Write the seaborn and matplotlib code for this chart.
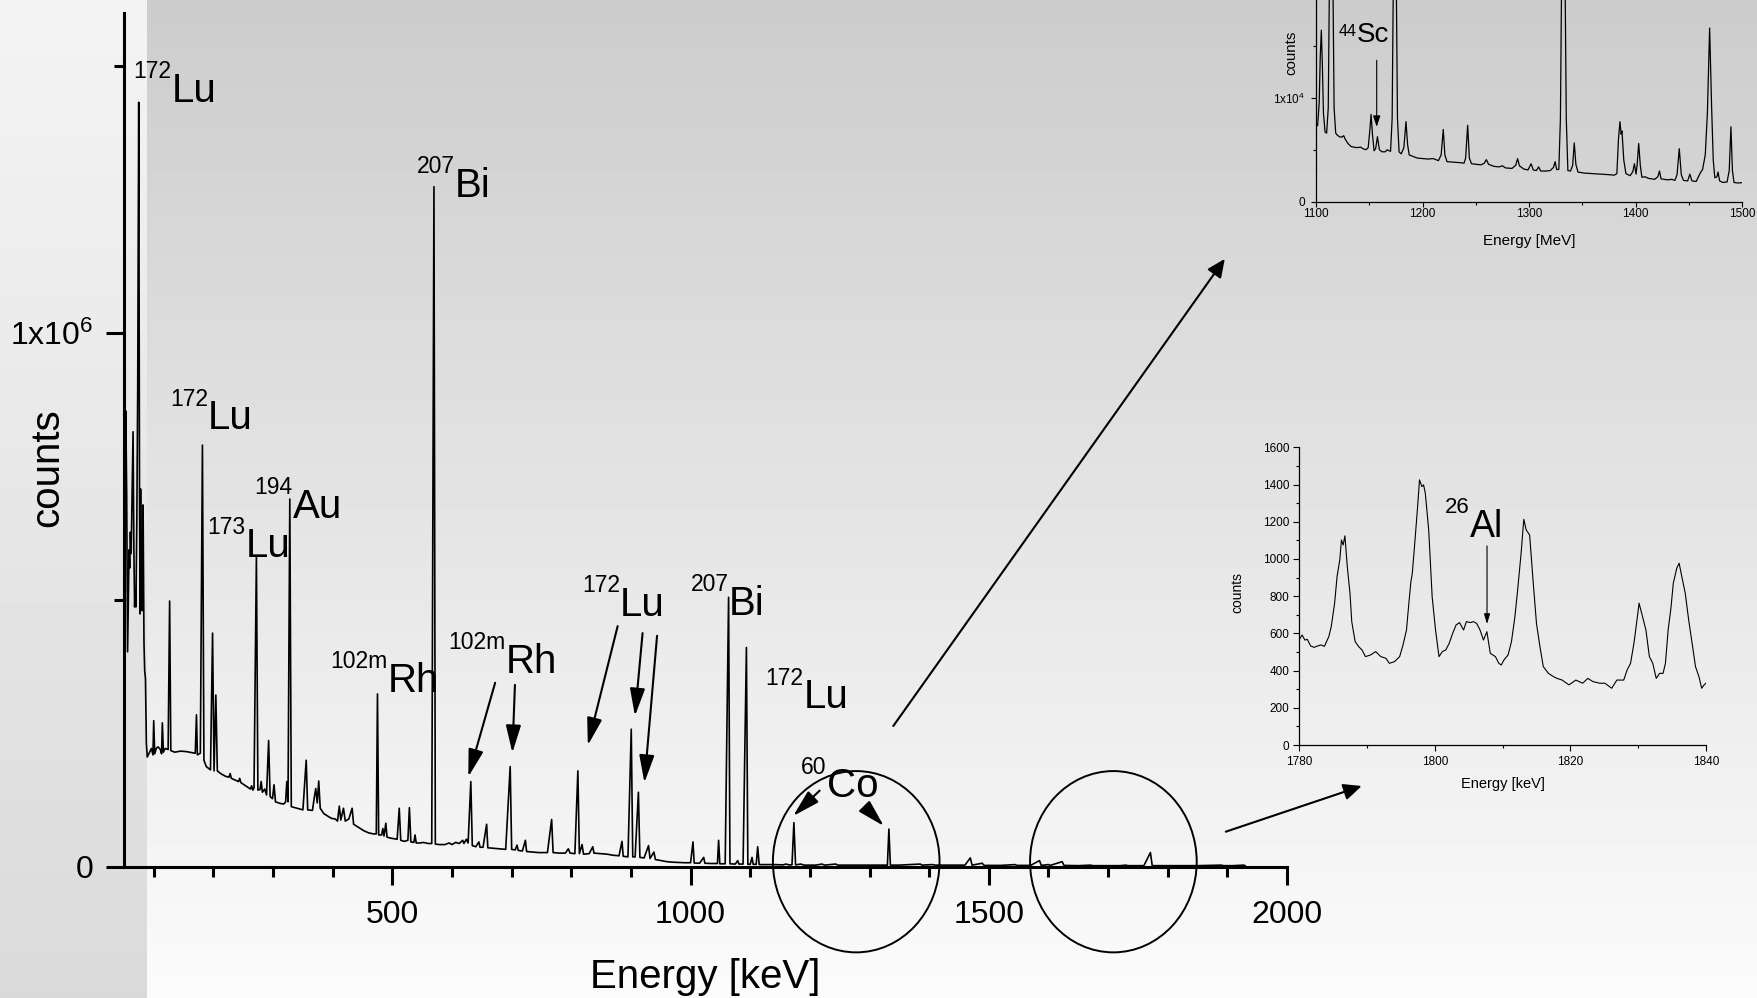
import numpy as np
import matplotlib
matplotlib.use('Agg')
import matplotlib.pyplot as plt
import seaborn as sns
from matplotlib.patches import Ellipse
from matplotlib.ticker import MultipleLocator, FixedLocator

# ---- main spectrum (energy keV, counts in thousands) ----
spec_energy = [
    50.5, 52, 53, 54.5, 56, 57.5, 58.5, 59.5, 60.7, 62, 63.5, 65.2, 66.5, 67.8, 69, 70, 71.5, 73, 74.7, 76,
    77, 77.8, 79, 80.5, 82, 83.5, 84.7, 86, 87.5, 89, 93, 96, 98.5, 99.8, 101.5, 104, 107, 111, 113, 114.3,
    116, 119, 124, 126.5, 128.5, 135, 145, 155, 165, 169.5, 171.5, 173, 178, 181.5, 184, 188, 195, 198.5, 201, 204,
    206.5, 212, 220, 226, 228, 230, 238, 242, 244, 246, 254, 262, 264, 266, 268, 272, 274.5, 278, 280, 282,
    286, 289, 292.5, 295, 299, 301.5, 304, 312, 318, 321, 323, 325, 328, 330.5, 340, 350, 355.5, 358, 366, 369,
    371.5, 374, 376.5, 379, 385, 392, 398, 404, 408, 411, 413.5, 418, 421, 427, 432.5, 435, 442, 452, 460, 468,
    473, 475, 477, 482, 484, 486, 489, 491, 497, 503, 508, 511.5, 514, 520, 526, 528.5, 531, 536, 538, 540,
    546, 552, 560, 566, 569.7, 572, 578, 588, 595, 600, 606, 612, 618, 620, 624, 627, 631.5, 634, 640, 645,
    647, 652, 658, 660, 670, 680, 690, 697.5, 700, 706, 709, 711, 718, 723, 725, 735, 745, 760, 767, 769.5,
    780, 790, 795, 798, 806, 811, 813.5, 818, 820.5, 830, 836, 838, 850, 860, 870, 880, 885, 887, 895, 900.5,
    903, 907, 912.5, 915, 922, 929.5, 932, 938.5, 941, 946, 950, 960, 970, 980, 990, 1000, 1004, 1006, 1015, 1022,
    1024, 1035, 1045, 1047, 1049, 1058, 1063.7, 1066, 1075, 1079, 1081, 1088, 1093.6, 1096, 1100, 1103, 1105, 1110, 1112.5, 1115,
    1125, 1140, 1155, 1160, 1165, 1170, 1173.2, 1176, 1185, 1190, 1210, 1220, 1225, 1243, 1247, 1270, 1300, 1310, 1330, 1332.5,
    1335, 1350, 1385, 1388, 1405, 1410, 1440, 1460, 1469, 1472, 1489, 1492, 1520, 1544, 1547, 1570, 1585, 1588, 1600, 1603,
    1623, 1626, 1650, 1671, 1674, 1720, 1730, 1733, 1760, 1771, 1774, 1800, 1850, 1890, 1893, 1910, 1927, 1930,
]
spec_counts = [
    560, 720, 854, 700, 403, 520, 594, 560, 627, 587, 700, 815, 600, 487, 520, 487, 650, 900, 1432, 700,
    474, 708, 520, 480, 678, 420, 367, 353, 232, 206, 215, 222, 210, 274, 212, 222, 225, 220, 212, 270,
    215, 222, 220, 498, 218, 215, 217, 216, 214, 213, 285, 210, 213, 790, 200, 188, 182, 438, 180, 322,
    180, 175, 170, 168, 175, 166, 162, 160, 166, 158, 152, 146, 152, 144, 148, 580, 144, 145, 160, 140,
    146, 135, 237, 132, 128, 154, 122, 119, 118, 122, 160, 122, 689, 113, 110, 107, 200, 107, 106, 130,
    147, 120, 161, 110, 100, 95, 91, 90, 86, 114, 88, 110, 86, 90, 110, 80, 75, 68, 64, 62,
    62, 324, 60, 60, 72, 58, 82, 56, 54, 53, 52, 110, 50, 48, 50, 111, 47, 46, 60, 45,
    45, 46, 44, 44, 1274, 43, 42, 42, 45, 42, 46, 44, 50, 44, 52, 45, 160, 40, 38, 47,
    37, 37, 80, 36, 35, 34, 33, 188, 33, 32, 41, 31, 30, 50, 29, 28, 27, 27, 89, 27,
    26, 26, 34, 26, 25, 180, 25, 42, 24, 25, 38, 26, 25, 24, 22, 21, 48, 20, 19, 258,
    19, 19, 140, 18, 17, 40, 16, 28, 14, 13, 12, 10, 9, 8.5, 8, 8, 47, 7.5, 7, 18,
    7, 6.5, 6.5, 50, 6, 6, 505, 6, 5.5, 12, 5.5, 5.5, 411, 5, 5, 18, 5, 5, 38, 4.5,
    4.5, 4.5, 4, 5.5, 4, 4, 83, 4, 5.5, 3.5, 3.5, 5.5, 3.5, 5.5, 3.5, 3.5, 3.5, 3.5, 3.5, 71,
    3.5, 3.5, 5.5, 3.5, 4.5, 3.5, 3.5, 3.5, 17, 3.5, 7, 3, 3, 4.5, 3, 3, 12, 3, 4.5, 3,
    10, 3, 2.5, 3.5, 2.5, 2.5, 3.5, 2.5, 2.5, 27, 2.5, 2.5, 2.5, 3.5, 2.5, 2.5, 3.5, 2.5,
]

# ---- upper inset: 1100-1500 region ----
ins1_energy = [
    1100.0, 1101.5, 1103.0, 1104.0, 1105.0, 1106.0, 1107.0, 1108.5, 1110.0, 1111.5, 1112.5, 1114.5, 1116.0, 1117.0,
    1118.5, 1120.0, 1122.0, 1124.0, 1126.0, 1127.5, 1130.0, 1133.0, 1138.0, 1142.0, 1144.0, 1147.0, 1149.0, 1150.5,
    1151.7, 1153.0, 1154.5, 1156.0, 1157.7, 1159.5, 1162.0, 1165.0, 1167.0, 1168.5, 1170.0, 1171.5, 1172.5, 1174.0,
    1175.5, 1176.5, 1178.0, 1180.0, 1182.5, 1184.5, 1186.0, 1187.5, 1190.0, 1195.0, 1200.0, 1205.0, 1210.0, 1215.0,
    1217.5, 1219.5, 1221.0, 1223.0, 1230.0, 1236.0, 1239.0, 1240.5, 1242.4, 1244.0, 1246.0, 1250.0, 1255.0, 1258.0,
    1260.0, 1262.0, 1267.0, 1272.0, 1275.0, 1278.0, 1284.0, 1287.5, 1289.3, 1291.0, 1295.0, 1299.0, 1302.0, 1304.0,
    1307.0, 1309.0, 1311.0, 1316.0, 1320.0, 1323.0, 1324.5, 1326.0, 1328.0, 1329.5, 1330.5, 1332.2, 1334.0, 1335.0,
    1336.5, 1339.0, 1341.0, 1342.5, 1344.0, 1346.0, 1352.0, 1360.0, 1368.0, 1375.0, 1380.0, 1382.5, 1384.0, 1385.4,
    1386.5, 1387.3, 1389.0, 1391.0, 1395.0, 1397.5, 1399.0, 1400.5, 1401.5, 1403.0, 1404.5, 1406.0, 1409.0, 1412.0,
    1418.0, 1421.0, 1422.5, 1424.0, 1430.0, 1434.0, 1437.0, 1439.0, 1441.1, 1443.0, 1445.0, 1449.0, 1451.0, 1453.0,
    1457.0, 1461.0, 1463.0, 1465.5, 1467.5, 1469.6, 1471.5, 1473.0, 1474.5, 1476.5, 1477.5, 1479.0, 1482.0, 1486.0,
    1488.0, 1489.6, 1491.0, 1492.5, 1496.0, 1500.0,
]
ins1_counts = [
    7400, 7300, 9500, 14000, 16500, 13000, 8500, 6700, 6600, 9000, 20000, 40000, 20000, 9000,
    6600, 6400, 6250, 6200, 6350, 6000, 5600, 5300, 5200, 5250, 5100, 5000, 5200, 6800,
    8400, 6500, 4900, 5100, 6250, 5000, 4800, 4800, 5000, 4900, 4850, 8000, 20000, 45000,
    20000, 8000, 4800, 4600, 5200, 7700, 5500, 4500, 4400, 4200, 4150, 4100, 4150, 3950,
    4500, 6950, 4500, 3850, 3800, 3750, 3700, 4200, 7350, 4200, 3650, 3600, 3550, 3700,
    4050, 3600, 3400, 3350, 3450, 3250, 3200, 3500, 4150, 3450, 3150, 3050, 3650, 3050,
    3000, 3350, 2950, 2950, 3000, 3300, 3850, 3100, 3100, 8000, 20000, 45000, 20000, 8000,
    3000, 2950, 3500, 5650, 3600, 2850, 2750, 2700, 2650, 2600, 2550, 2700, 6000, 7700,
    6500, 6800, 4000, 2700, 2500, 2900, 3650, 2650, 3500, 5600, 3500, 2350, 2400, 2250,
    2150, 2400, 2950, 2200, 2100, 2150, 2050, 2600, 5100, 2600, 2050, 2000, 2650, 2000,
    1950, 2800, 3100, 4500, 8500, 16700, 9000, 4000, 2300, 2400, 2850, 2000, 1850, 1900,
    3000, 7200, 3000, 1850, 1800, 1830,
]

# ---- lower inset: 1780-1840 region ----
ins2_energy = [
    1780.00, 1780.40, 1780.81, 1781.16, 1781.67, 1782.17, 1782.68, 1783.18, 1783.69, 1784.34, 1784.70, 1785.20,
    1785.56, 1785.96, 1786.21, 1786.46, 1786.72, 1787.07, 1787.47, 1787.73, 1787.98, 1788.23, 1788.74, 1789.24,
    1789.75, 1790.51, 1791.26, 1792.02, 1792.78, 1793.28, 1794.04, 1794.80, 1795.30, 1795.81, 1796.16, 1796.46,
    1796.67, 1797.07, 1797.47, 1797.73, 1798.08, 1798.33, 1798.59, 1799.09, 1799.60, 1800.10, 1800.61, 1801.11,
    1801.62, 1802.12, 1802.63, 1803.13, 1803.64, 1804.24, 1804.65, 1805.25, 1805.66, 1806.16, 1806.67, 1807.17,
    1807.68, 1808.18, 1808.94, 1809.44, 1809.80, 1810.20, 1810.81, 1811.31, 1811.82, 1812.22, 1812.73, 1813.13,
    1813.48, 1813.99, 1814.49, 1815.00, 1815.51, 1816.01, 1816.77, 1817.53, 1818.03, 1818.79, 1819.80, 1820.81,
    1821.82, 1822.58, 1823.33, 1824.34, 1825.10, 1826.11, 1826.87, 1827.88, 1828.38, 1828.89, 1829.39, 1829.65,
    1830.15, 1830.66, 1831.16, 1831.67, 1832.17, 1832.68, 1833.18, 1833.69, 1834.04, 1834.44, 1834.85, 1835.20,
    1835.71, 1836.06, 1836.46, 1836.97, 1837.47, 1837.98, 1838.48, 1838.99, 1839.39, 1839.75, 1840.00,
]
ins2_counts = [
    568, 591, 564, 568, 532, 525, 532, 538, 530, 582, 636, 762,
    905, 995, 1102, 1075, 1124, 959, 815, 663, 609, 556, 529, 511,
    475, 484, 502, 475, 466, 439, 448, 475, 538, 618, 762, 878,
    923, 1102, 1290, 1425, 1389, 1398, 1353, 1156, 797, 618, 475, 502,
    511, 547, 600, 645, 658, 618, 663, 658, 663, 654, 618, 564,
    609, 493, 475, 439, 430, 457, 484, 556, 690, 833, 1030, 1213,
    1156, 1129, 887, 654, 529, 421, 385, 367, 358, 349, 323, 349,
    332, 358, 341, 332, 332, 305, 349, 349, 403, 439, 547, 618,
    762, 690, 618, 475, 439, 358, 385, 385, 439, 618, 735, 869,
    950, 977, 905, 815, 672, 547, 421, 367, 305, 323, 332,
]

main_xticks = [500, 1000, 1500, 2000]
main_yticks = [0, 1000]
main_yticklabels = ['0', r'1x10$^6$']
ins1_yticks = [0, 10000]
ins1_yticklabels = ['0', r'1x10$^4$']

sns.set_style('ticks')
plt.rcParams['font.family'] = ['Liberation Sans', 'DejaVu Sans']
plt.rcParams['mathtext.fontset'] = 'custom'
plt.rcParams['mathtext.rm'] = 'Liberation Sans'
plt.rcParams['mathtext.default'] = 'regular'
for key in ('text.color', 'axes.labelcolor', 'axes.edgecolor', 'xtick.color', 'ytick.color'):
    plt.rcParams[key] = 'black'

W, H = 1757, 998
fig = plt.figure(figsize=(W / 100, H / 100), dpi=100)

# slide background: grey-to-white gradient, reversed in the left strip
bg = fig.add_axes([0, 0, 1, 1], zorder=-10)
rows = np.linspace(0, 1, 300)[:, None]
cols = np.arange(W)[None, :]
shade = np.where(cols < 147, 0.955 - 0.10 * rows, 0.80 + 0.185 * rows)
bg.imshow(shade, cmap='gray', vmin=0, vmax=1, aspect='auto', extent=[0, 1, 0, 1])
bg.axis('off')


def px_axes(left, top, right, bottom):
    return fig.add_axes([left / W, 1 - bottom / H, (right - left) / W, (bottom - top) / H])


# ---------------- main spectrum ----------------
ax = px_axes(124, 12.6, 1287, 867)
ax.patch.set_alpha(0)
sns.lineplot(x=spec_energy, y=spec_counts, ax=ax, color='black', lw=1.2,
             estimator=None, sort=False)
ax.set_xlim(50, 2000)
ax.set_ylim(0, 1600)
sns.despine(ax=ax)
for s in ('left', 'bottom'):
    ax.spines[s].set_linewidth(2.2)
ax.xaxis.set_major_locator(FixedLocator(main_xticks))
ax.xaxis.set_minor_locator(MultipleLocator(100))
ax.yaxis.set_major_locator(FixedLocator(main_yticks))
ax.yaxis.set_minor_locator(MultipleLocator(500))
ax.set_yticklabels(main_yticklabels)
ax.tick_params(which='major', length=13, width=2.2, labelsize=23, direction='out')
ax.tick_params(axis='x', which='major', pad=10.5)
ax.tick_params(axis='y', which='major', pad=9)
ax.tick_params(which='minor', length=7, width=2.2, direction='out')
ax.set_xlabel('Energy [keV]', fontsize=29)
ax.xaxis.set_label_coords(0.4996, -0.107)
ax.set_ylabel('counts', fontsize=29)
ax.yaxis.set_label_coords(-0.0494, 0.467)


def iso_label(axis, x, y, mass, symbol, size, sup_size, rise):
    axis.annotate(mass, (x, y), xytext=(0, rise), textcoords='offset points',
                  ha='right', va='baseline', fontsize=sup_size, annotation_clip=False)
    axis.annotate(symbol, (x, y), ha='left', va='baseline', fontsize=size,
                  annotation_clip=False)


for e, c, mass, sym in [(130, 1433, '172', 'Lu'), (605, 1255, '207', 'Bi'),
                        (191, 820, '172', 'Lu'), (254, 580, '173', 'Lu'),
                        (333, 654, '194', 'Au'), (492.4, 328, '102m', 'Rh'),
                        (690.4, 364, '102m', 'Rh'), (881.7, 470, '172', 'Lu'),
                        (1064.6, 472, '207', 'Bi'), (1189.6, 297, '172', 'Lu'),
                        (1228, 130.5, '60', 'Co')]:
    iso_label(ax, e, c, mass, sym, 29, 16.5, 17)

peak_arrow = dict(arrowstyle='-|>,head_length=0.8,head_width=0.22', mutation_scale=21,
                  lw=1.5, color='black', shrinkA=0, shrinkB=0)
for (e0, c0), (e1, c1) in [((672.3, 345), (627.3, 169)), ((705.5, 341), (701.2, 214)),
                           ((877.7, 451), (827.7, 228)), ((919.5, 438), (906.7, 283)),
                           ((943.8, 433), (922.6, 158)), ((1216.3, 143), (1172, 95.5)),
                           ((1292, 113), (1324, 76.8))]:
    ax.annotate('', xy=(e1, c1), xytext=(e0, c0), arrowprops=peak_arrow,
                annotation_clip=False)

for ec in (1277.7, 1708.9):
    ax.add_patch(Ellipse((ec, 9.9), width=279.4, height=339.5, fill=False,
                         edgecolor='black', lw=1.4, clip_on=False, zorder=5))

# connector arrows (figure pixels measured from the top-left)
long_arrow = dict(arrowstyle='-|>,head_length=0.55,head_width=0.25', mutation_scale=20,
                  lw=1.5, color='black', shrinkA=0, shrinkB=0)
for (x0, y0), (x1, y1) in [((893.3, 726), (1224.8, 258.9)), ((1225.8, 831.7), (1361.7, 786))]:
    fig.add_artist(matplotlib.patches.FancyArrowPatch(
        (x0 / W, 1 - y0 / H), (x1 / W, 1 - y1 / H), transform=fig.transFigure, **long_arrow))

# ---------------- upper inset ----------------
a1 = px_axes(1316, 0, 1742, 201.7)
a1.patch.set_alpha(0)
sns.lineplot(x=ins1_energy, y=ins1_counts, ax=a1, color='black', lw=0.9,
             estimator=None, sort=False)
a1.set_xlim(1100, 1500)
a1.set_ylim(0, 19400)
sns.despine(ax=a1)
for s in ('left', 'bottom'):
    a1.spines[s].set_linewidth(0.9)
a1.xaxis.set_major_locator(MultipleLocator(100))
a1.xaxis.set_minor_locator(MultipleLocator(50))
a1.yaxis.set_major_locator(FixedLocator(ins1_yticks))
a1.yaxis.set_minor_locator(MultipleLocator(5000))
a1.set_yticklabels(ins1_yticklabels)
a1.tick_params(which='major', length=3.3, width=0.8, labelsize=8.5, direction='out')
a1.tick_params(axis='x', which='major', pad=1.5)
a1.tick_params(axis='y', which='major', pad=4.5)
a1.tick_params(which='minor', length=2.2, width=0.8, direction='out')
a1.set_xlabel('Energy [MeV]', fontsize=11)
a1.xaxis.set_label_coords(0.5, -0.16)
a1.set_ylabel('counts', fontsize=10.8)
a1.yaxis.set_label_coords(-0.042, 0.737)
iso_label(a1, 1138.5, 15384, '44', 'Sc', 20, 11.5, 4.1)
a1.annotate('', xy=(1157, 7200), xytext=(1157, 13600),
            arrowprops=dict(arrowstyle='-|>,head_length=0.6,head_width=0.2', mutation_scale=11,
                            lw=0.8, color='black', shrinkA=0, shrinkB=0))

# ---------------- lower inset ----------------
a2 = px_axes(1299.4, 447.3, 1705.8, 745)
a2.patch.set_alpha(0)
sns.lineplot(x=ins2_energy, y=ins2_counts, ax=a2, color='black', lw=0.8,
             estimator=None, sort=False)
a2.set_xlim(1780, 1840)
a2.set_ylim(0, 1600)
sns.despine(ax=a2)
for s in ('left', 'bottom'):
    a2.spines[s].set_linewidth(0.9)
a2.xaxis.set_major_locator(MultipleLocator(20))
a2.xaxis.set_minor_locator(MultipleLocator(10))
a2.yaxis.set_major_locator(MultipleLocator(200))
a2.yaxis.set_minor_locator(MultipleLocator(100))
a2.tick_params(which='major', length=4, width=0.8, labelsize=8.5, direction='out')
a2.tick_params(axis='x', which='major', pad=4)
a2.tick_params(axis='y', which='major', pad=3.3)
a2.tick_params(which='minor', length=2.5, width=0.8, direction='out')
a2.set_xlabel('Energy [keV]', fontsize=10.5)
a2.xaxis.set_label_coords(0.4998, -0.108)
a2.set_ylabel('counts', fontsize=10)
a2.yaxis.set_label_coords(-0.135, 0.512)
iso_label(a2, 1805.2, 1120, '26', 'Al', 27, 16, 16.8)
a2.annotate('', xy=(1807.7, 650), xytext=(1807.7, 1070),
            arrowprops=dict(arrowstyle='-|>,head_length=0.6,head_width=0.18', mutation_scale=10,
                            lw=0.8, color='black', shrinkA=0, shrinkB=0))

fig.savefig('out.png', dpi=100)
